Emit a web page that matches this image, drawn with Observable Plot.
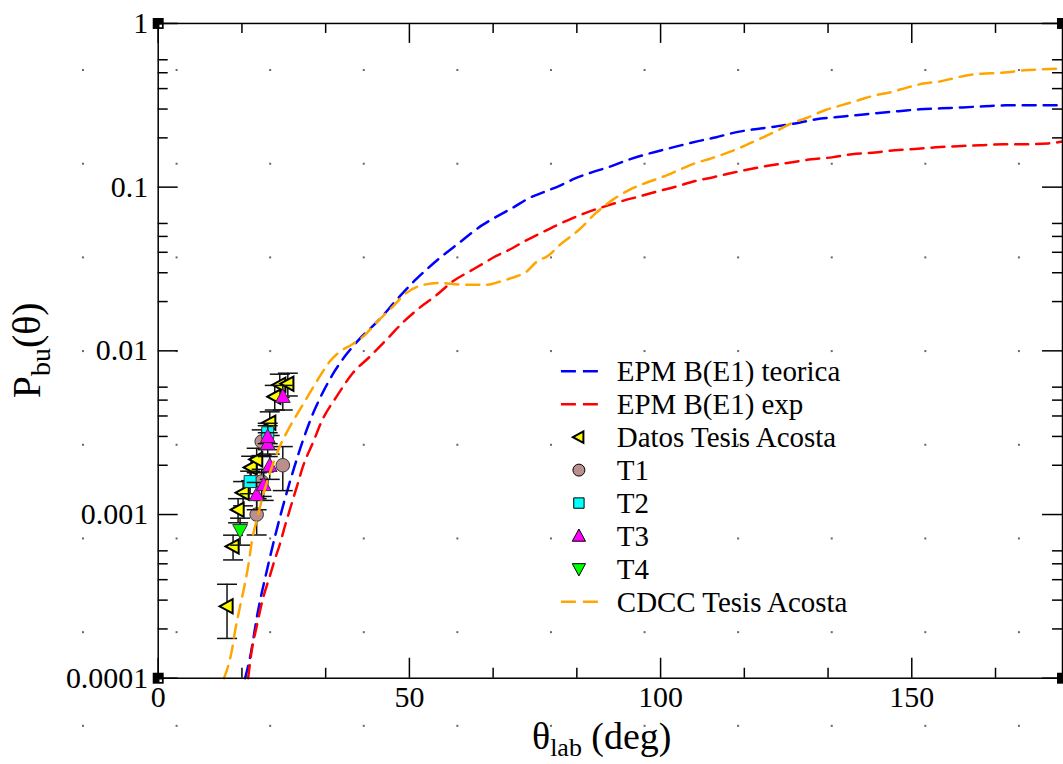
<!DOCTYPE html>
<html><head><meta charset="utf-8">
<script src="https://cdn.jsdelivr.net/npm/d3@7"></script>
<script src="https://cdn.jsdelivr.net/npm/@observablehq/plot@0.6"></script>
<style>
html,body{margin:0;padding:0;background:#fff;overflow:hidden;}
#wrap{position:relative;width:1063px;height:764px;overflow:hidden;
  background-image:radial-gradient(circle, #666 0.9px, transparent 1.1px);
  background-size:93.6px 93.7px;background-position:36.2px 23.2px;}
#wrap svg{position:absolute;left:0;top:0;}
</style></head><body><div id="wrap"></div>
<script>
// ---------- axis ticks ----------
const xMajor = [0, 50, 100, 150];
const xMinor = [16.667, 33.333, 66.667, 83.333, 116.667, 133.333, 166.667];
const yMajor = [1e-4, 1e-3, 1e-2, 1e-1, 1];
const yMajorLabels = ["0.0001", "0.001", "0.01", "0.1", "1"];
const yMinor = [2e-4, 3e-4, 4e-4, 5e-4, 6e-4, 2e-3, 3e-3, 4e-3, 5e-3, 6e-3,
                2e-2, 3e-2, 4e-2, 5e-2, 6e-2, 0.2, 0.3, 0.4, 0.5, 0.6];

// ---------- EPM B(E1) teorica (blue) ----------
const blueAngle = [17.3, 18.3, 19.8, 21.8, 23.2, 25.0, 27.0, 29.0, 31.0, 33.0, 35.0, 37.5, 40.0, 44.0, 47.4, 51.4, 55.4, 59.9,
  64.5, 67.9, 70.8, 73.8, 76.8, 80.2, 83.1, 86.3, 90.1, 93.3, 96.6, 100.2, 104.0, 107.5, 111.1, 114.9, 118.8, 123.0, 126.8, 131.0, 134.7,
  138.9, 142.9, 147.4, 151.6, 155.8, 160.1, 164.5, 168.7, 173.4, 180];
const blueP = [1.0e-4, 1.35e-4, 2.51e-4, 4.79e-4, 7.24e-4, 1.175e-3, 1.905e-3, 2.95e-3, 4.27e-3, 5.75e-3, 7.41e-3, 9.55e-3, 0.01175, 0.0155, 0.0204, 0.0275, 0.0355, 0.0457,
  0.0586, 0.0675, 0.0755, 0.0857, 0.0933, 0.103, 0.1135, 0.123, 0.134, 0.146, 0.157, 0.168, 0.180, 0.191, 0.202, 0.216, 0.226, 0.235, 0.245, 0.260, 0.267,
  0.275, 0.283, 0.291, 0.299, 0.303, 0.307, 0.312, 0.316, 0.316, 0.317];

// ---------- EPM B(E1) exp (red) ----------
const redAngle = [17.9, 18.65, 19.6, 20.8, 22.2, 23.2, 24.2, 25.2, 26.2, 27.6, 28.8, 30.8, 32.7, 35.5, 38.7, 42.1, 46.0, 48.6, 52.0, 55.4, 58.5, 62.5,
  64.5, 67.3, 70.2, 73.0, 76.2, 79.4, 82.5, 85.5, 89.1, 92.3, 96.0, 99.6, 103.2, 106.9, 110.5, 114.1, 117.9, 122.0, 126.2, 130.0, 134.1,
  138.1, 142.7, 146.6, 150.6, 154.8, 159.1, 163.5, 168.3, 172.4, 177.2, 180];
const redP = [1e-4, 1.5e-4, 2.07e-4, 3.03e-4, 4.19e-4, 5.3e-4, 6.56e-4, 8.45e-4, 1.07e-3, 1.48e-3, 1.96e-3, 2.75e-3, 3.8e-3, 5.25e-3, 7.3e-3, 9.2e-3, 0.0122, 0.0148, 0.0183, 0.0219, 0.0264, 0.0312,
  0.0339, 0.038, 0.0419, 0.0469, 0.0525, 0.0586, 0.0647, 0.0704, 0.0766, 0.0822, 0.0881, 0.0946, 0.101, 0.109, 0.115, 0.122, 0.129, 0.136, 0.142, 0.148, 0.152,
  0.159, 0.163, 0.168, 0.171, 0.175, 0.178, 0.180, 0.183, 0.183, 0.185, 0.19];

// ---------- CDCC Tesis Acosta (orange) ----------
const cdccAngle = [13.1, 14.7, 15.3, 16.3, 16.9, 17.9, 18.8, 19.8, 20.8, 21.8, 24.2, 26.2, 28.2, 30.2, 32.1, 34.1, 36.1, 38.5, 40.5, 44.0, 46.6, 49.4,
  52.0, 56.0, 58.5, 61.3, 65.3, 67.9, 70.4, 73.2, 75.8, 77.2, 80.4, 83.7, 87.1, 90.3, 93.7, 97.0, 100.2, 103.6, 106.9, 110.1, 113.5, 116.9, 120.0,
  123.4, 126.0, 129.4, 132.7, 135.9, 139.3, 142.7, 145.8, 149.2, 152.6, 155.8, 159.1, 162.5, 165.7, 169.0, 172.4, 175.6, 180];
const cdccP = [1e-4, 1.5e-4, 1.94e-4, 2.75e-4, 3.34e-4, 4.82e-4, 7.3e-4, 9.7e-4, 1.29e-3, 1.63e-3, 2.6e-3, 3.44e-3, 4.37e-3, 5.55e-3, 6.93e-3, 8.57e-3, 9.86e-3, 0.0109, 0.012, 0.0155, 0.0185, 0.0226,
  0.0249, 0.026, 0.0256, 0.0253, 0.0253, 0.0264, 0.0279, 0.0303, 0.0359, 0.0374, 0.0456, 0.0547, 0.0694, 0.083, 0.096, 0.106, 0.115, 0.127, 0.140, 0.150, 0.163, 0.180, 0.199,
  0.223, 0.245, 0.267, 0.295, 0.316, 0.339, 0.364, 0.380, 0.407, 0.431, 0.443, 0.469, 0.489, 0.496, 0.503, 0.517, 0.524, 0.53];

// ---------- measured points ----------
const datosAngle = [13.7, 14.9, 15.9, 16.9, 18.5, 19.6, 22.2, 23.2, 24.2, 25.8];
const datosP     = [2.75e-4, 6.38e-4, 1.07e-3, 1.36e-3, 1.94e-3, 2.17e-3, 3.64e-3, 5.25e-3, 6.2e-3, 6.3e-3];
const datosErr   = [1.0e-4, 1.1e-4, 1.8e-4, 2.3e-4, 3.3e-4, 3.7e-4, 6e-4, 9e-4, 1.0e-3, 1.0e-3];

const t1Angle = [19.6, 20.6, 20.6, 24.8];
const t1P     = [1.0e-3, 1.59e-3, 2.79e-3, 2.0e-3];
const t1Err   = [2.5e-4, 3e-4, 5e-4, 6e-4];

const t2Angle = [18.3, 21.8];
const t2P     = [1.59e-3, 3.16e-3];
const t2Err   = [2.5e-4, 4.5e-4];

const t3Angle = [19.6, 21.0, 22.2, 21.8, 21.8, 24.8];
const t3P     = [1.32e-3, 1.52e-3, 1.99e-3, 2.71e-3, 2.99e-3, 5.25e-3];
const t3Err   = [2.5e-4, 3e-4, 3.5e-4, 4.5e-4, 5e-4, 9e-4];

const t4Angle = [16.3];
const t4P     = [8.0e-4];
const t4Err   = [1.5e-4];

// ---------- legend ----------
const legendLabels = ["EPM B(E1) teorica", "EPM B(E1) exp", "Datos Tesis Acosta", "T1", "T2", "T3", "T4", "CDCC Tesis Acosta"];

// ---------- build tables ----------
const curve = (A, P) => A.map((a, i) => ({a, p: P[i]}));
const pts = (A, P, E) => A.map((a, i) => ({a, p: P[i], lo: P[i] - E[i], hi: P[i] + E[i]}));
const blue = curve(blueAngle, blueP), red = curve(redAngle, redP), cdcc = curve(cdccAngle, cdccP);
const datos = pts(datosAngle, datosP, datosErr), t1 = pts(t1Angle, t1P, t1Err), t2 = pts(t2Angle, t2P, t2Err),
      t3 = pts(t3Angle, t3P, t3Err), t4 = pts(t4Angle, t4P, t4Err);

// ---------- symbols ----------
const rad = s => Math.sqrt(s / Math.PI);
const leftTri = {draw(c, s) { const r = rad(s); c.moveTo(-r, 0); c.lineTo(r * 0.75, -r * 0.95); c.lineTo(r * 0.75, r * 0.95); c.closePath(); }};
const upTri = {draw(c, s) { const r = rad(s); c.moveTo(0, -r); c.lineTo(r * 0.95, r * 0.75); c.lineTo(-r * 0.95, r * 0.75); c.closePath(); }};
const downTri = {draw(c, s) { const r = rad(s); c.moveTo(0, r); c.lineTo(r * 0.95, -r * 0.75); c.lineTo(-r * 0.95, -r * 0.75); c.closePath(); }};
const sq = {draw(c, s) { const r = rad(s); c.rect(-r, -r, 2 * r, 2 * r); }};
const cap = {draw(c, s) { const r = rad(s); c.moveTo(-r, 0); c.lineTo(r, 0); }};

const FF = "'Liberation Serif', 'Times New Roman', 'DejaVu Serif', serif";
const W = 1065, H = 764, ML = 158, MR = 1, MT = 23, MB = 85;
const plotW = W - ML - MR, plotH = H - MT - MB;
const dash = "13,8";
const errMarks = d => [
  Plot.ruleX(d, {x: "a", y1: "lo", y2: "hi", stroke: "#111", strokeWidth: 1.5}),
  Plot.dot(d, {x: "a", y: "lo", symbol: cap, r: 10, stroke: "#111", strokeWidth: 1.5, fill: "none"}),
  Plot.dot(d, {x: "a", y: "hi", symbol: cap, r: 10, stroke: "#111", strokeWidth: 1.5, fill: "none"})
];

const chart = Plot.plot({
  width: W, height: H, marginLeft: ML, marginRight: MR, marginTop: MT, marginBottom: MB,
  style: `font-family: ${FF}; font-size: 30px; color: #000; background: transparent; overflow: visible;`,
  x: {domain: [0, 180], ticks: xMajor, tickSize: 0, tickPadding: 8, label: null},
  y: {type: "log", domain: [1e-4, 1], ticks: yMajor, tickFormat: d => yMajorLabels[yMajor.indexOf(d)], tickSize: 0, tickPadding: 10, label: null},
  marks: [
    // inside ticks
    Plot.tickX(xMajor, {x: d => d, insetTop: plotH - 20, stroke: "black", strokeWidth: 1.5}),
    Plot.tickX(xMinor, {x: d => d, insetTop: plotH - 10, stroke: "black", strokeWidth: 1.5}),
    Plot.tickX(xMajor, {x: d => d, insetBottom: plotH - 20, stroke: "black", strokeWidth: 1.5}),
    Plot.tickX(xMinor, {x: d => d, insetBottom: plotH - 10, stroke: "black", strokeWidth: 1.5}),
    Plot.tickY(yMajor, {y: d => d, insetRight: plotW - 20, stroke: "black", strokeWidth: 1.5}),
    Plot.tickY(yMinor, {y: d => d, insetRight: plotW - 10, stroke: "black", strokeWidth: 1.5}),
    Plot.tickY(yMajor, {y: d => d, insetLeft: plotW - 20, stroke: "black", strokeWidth: 1.5}),
    Plot.tickY(yMinor, {y: d => d, insetLeft: plotW - 10, stroke: "black", strokeWidth: 1.5}),
    // theory curves
    Plot.line(blue, {x: "a", y: "p", stroke: "#0000ff", strokeWidth: 2.5, strokeDasharray: dash, curve: "monotone-x"}),
    Plot.line(red, {x: "a", y: "p", stroke: "#ff0000", strokeWidth: 2.5, strokeDasharray: dash, curve: "monotone-x"}),
    // data
    ...errMarks(datos),
    Plot.dot(datos, {x: "a", y: "p", symbol: leftTri, r: 7.5, fill: "#ffff00", stroke: "black", strokeWidth: 2}),
    ...errMarks(t1),
    Plot.dot(t1, {x: "a", y: "p", symbol: "circle", r: 6.8, fill: "#bc8f8f", stroke: "#333", strokeWidth: 1}),
    ...errMarks(t2),
    Plot.dot(t2, {x: "a", y: "p", symbol: sq, r: 6, fill: "#00ffff", stroke: "#333", strokeWidth: 1}),
    ...errMarks(t3),
    Plot.dot(t3, {x: "a", y: "p", symbol: upTri, r: 7.8, fill: "#ff00ff", stroke: "#333", strokeWidth: 1}),
    ...errMarks(t4),
    Plot.dot(t4, {x: "a", y: "p", symbol: downTri, r: 7.8, fill: "#00ff00", stroke: "#333", strokeWidth: 1}),
    Plot.line(cdcc, {x: "a", y: "p", stroke: "#ffa500", strokeWidth: 2.5, strokeDasharray: dash, curve: "monotone-x"}),
    Plot.frame({stroke: "black", strokeWidth: 1.5}),
    // corner markers
    ...["top-left", "bottom-left", "top-right", "bottom-right"].map(fa =>
      Plot.dot([0], {frameAnchor: fa, symbol: "square", r: 6.2, fill: "black", stroke: "none"})),
    ...["top-left", "bottom-left", "top-right", "bottom-right"].map(fa =>
      Plot.dot([0], {frameAnchor: fa, symbol: "square", r: 1.4, fill: "white", stroke: "none", dx: 2.5, dy: 2.5}))
  ]
});

document.getElementById("wrap").appendChild(chart);

// ---------- axis titles & legend ----------
const svg = d3.select(chart);
const xt = svg.append("text").attr("x", 533).attr("y", 750).attr("text-anchor", "start").attr("fill", "black").style("font-size", "38px");
xt.append("tspan").text("θ");
xt.append("tspan").attr("dy", 7).style("font-size", "26px").text("lab");
xt.append("tspan").attr("dy", -7).text(" (deg)");

const yt = svg.append("text").attr("transform", "translate(40,399) rotate(-90)").attr("text-anchor", "start").attr("fill", "black").style("font-size", "40px");
yt.append("tspan").text("P");
yt.append("tspan").attr("dy", 10).style("font-size", "28px").text("bu");
yt.append("tspan").attr("dy", -10).text("(θ)");

const lg = svg.append("g").attr("text-anchor", "start").attr("fill", "black");
const baselines = [382, 415, 448, 481, 514, 547, 580, 613];
const kinds = [
  {line: "#0000ff"}, {line: "#ff0000"},
  {sym: leftTri, fill: "#ffff00", r: 6, sw: 2}, {sym: d3.symbolCircle, fill: "#bc8f8f", r: 6, sw: 1},
  {sym: sq, fill: "#00ffff", r: 5.2, sw: 1}, {sym: upTri, fill: "#ff00ff", r: 7, sw: 1},
  {sym: downTri, fill: "#00ff00", r: 7, sw: 1}, {line: "#ffa500"}
];
kinds.forEach((k, i) => {
  const cy = baselines[i] - 10;
  if (k.line) {
    lg.append("line").attr("x1", 562).attr("x2", 600).attr("y1", cy).attr("y2", cy)
      .attr("stroke", k.line).attr("stroke-width", 2.5).attr("stroke-dasharray", "15,7");
  } else {
    lg.append("path").attr("transform", `translate(580,${cy})`)
      .attr("d", d3.symbol(k.sym, k.r * k.r * Math.PI)())
      .attr("fill", k.fill).attr("stroke", "black").attr("stroke-width", k.sw);
  }
  lg.append("text").attr("x", 618).attr("y", baselines[i]).attr("text-anchor", "start").style("font-size", "29px").text(legendLabels[i]);
});
svg.selectAll("text").style("font-family", FF);
</script>
</body></html>
